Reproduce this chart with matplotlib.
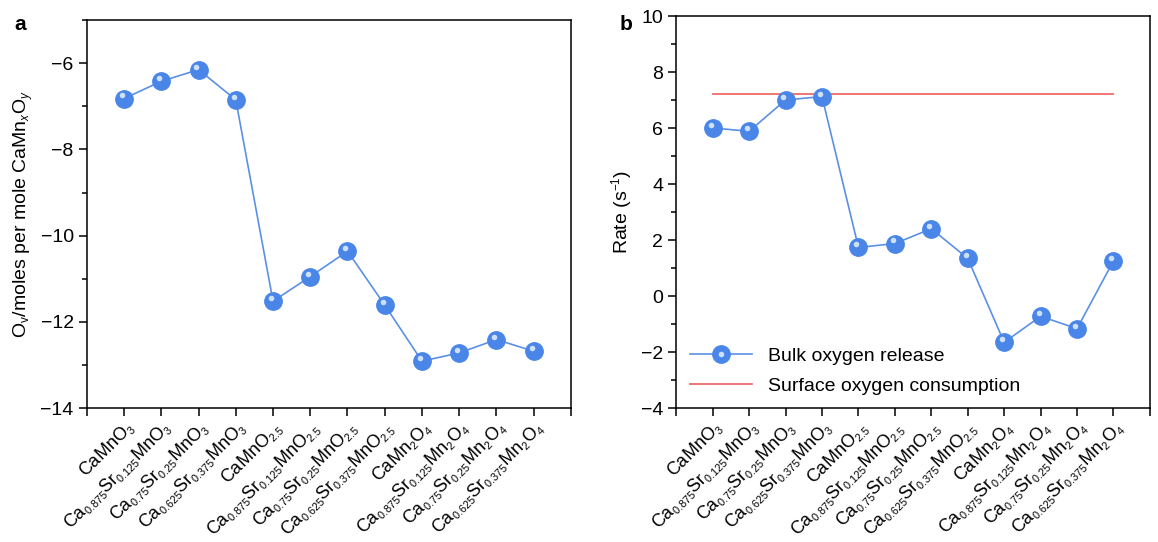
import numpy as np
import matplotlib
matplotlib.use("Agg")
import matplotlib.pyplot as plt
import matplotlib.transforms as mtransforms
from matplotlib.ticker import MultipleLocator
from matplotlib.legend_handler import HandlerTuple

# smaller sub/superscripts, closer to the original figure
try:
    import matplotlib._mathtext as _mt
    _mt.SHRINK_FACTOR = 0.6
except Exception:
    pass

plt.rcParams['font.family'] = ['Liberation Sans', 'DejaVu Sans']
plt.rcParams['mathtext.fontset'] = 'custom'
plt.rcParams['mathtext.rm'] = 'Liberation Sans'
plt.rcParams['mathtext.it'] = 'Liberation Sans:italic'
plt.rcParams['mathtext.bf'] = 'Liberation Sans:bold'

# compositions (x axis categories)
compositions = [
    r"CaMnO$_3$",
    r"Ca$_{0.875}$Sr$_{0.125}$MnO$_3$",
    r"Ca$_{0.75}$Sr$_{0.25}$MnO$_3$",
    r"Ca$_{0.625}$Sr$_{0.375}$MnO$_3$",
    r"CaMnO$_{2.5}$",
    r"Ca$_{0.875}$Sr$_{0.125}$MnO$_{2.5}$",
    r"Ca$_{0.75}$Sr$_{0.25}$MnO$_{2.5}$",
    r"Ca$_{0.625}$Sr$_{0.375}$MnO$_{2.5}$",
    r"CaMn$_2$O$_4$",
    r"Ca$_{0.875}$Sr$_{0.125}$Mn$_2$O$_4$",
    r"Ca$_{0.75}$Sr$_{0.25}$Mn$_2$O$_4$",
    r"Ca$_{0.625}$Sr$_{0.375}$Mn$_2$O$_4$",
]

# panel a: oxygen vacancies per mole
vacancies = [-6.82, -6.42, -6.15, -6.85, -11.52, -10.95, -10.36, -11.61,
             -12.91, -12.72, -12.41, -12.68]

# panel b: rates
bulk_rate = [6.01, 5.89, 7.01, 7.13, 1.74, 1.88, 2.41, 1.35,
             -1.65, -0.72, -1.16, 1.26]
surface_rate = 7.22

ball_color = "#4a86e8"
line_color = "#5b90e6"
hl_color = "#d6e5fc"
fs = 14
xfs = 13

fig = plt.figure(figsize=(11.58, 5.42), dpi=100)
ax_a = fig.add_axes([0.075, 0.247, 0.418, 0.716])
ax_b = fig.add_axes([0.584, 0.247, 0.409, 0.723])

xpos = np.arange(1, len(compositions) + 1)


def balls(ax, y, label=None):
    ln, = ax.plot(xpos, y, '-', color=line_color, lw=1.2, marker='o',
                  ms=12.5, mfc=ball_color, mec=ball_color, zorder=3,
                  label=label)
    # little highlight to fake the shiny sphere
    off = mtransforms.ScaledTranslation(-1.5 / 72, 2.2 / 72, fig.dpi_scale_trans)
    hl, = ax.plot(xpos, y, 'o', ms=4, mfc=hl_color, mec='none', alpha=0.95,
                  transform=ax.transData + off, zorder=4)
    return ln, hl


def style(ax):
    ax.set_xlim(0, 13)
    ax.set_xticks(np.arange(0, 14))
    ax.set_xticklabels([''] + compositions + [''], rotation=45, ha='right',
                       va='top', rotation_mode='anchor', fontsize=xfs)
    ax.tick_params(axis='both', direction='out', length=6, width=1.1,
                   labelsize=fs, top=False, right=False)
    ax.tick_params(axis='x', labelsize=xfs, pad=1)
    ax.tick_params(axis='y', which='minor', direction='out', length=3.5, width=1.1)
    for s in ax.spines.values():
        s.set_linewidth(1.1)


# panel a
balls(ax_a, vacancies)
style(ax_a)
ax_a.set_ylim(-14, -5)
ax_a.yaxis.set_major_locator(MultipleLocator(2))
ax_a.yaxis.set_minor_locator(MultipleLocator(1))
ax_a.set_ylabel(r"O$_\mathrm{v}$/moles per mole CaMn$_x$O$_y$", fontsize=fs)
fig.text(0.012, 0.945, "a", fontsize=fs + 1, fontweight='bold')

# panel b
h_bulk = balls(ax_b, bulk_rate, label="Bulk oxygen release")
h_surf, = ax_b.plot([xpos[0], xpos[-1]], [surface_rate, surface_rate],
                    color="#f06a6a", lw=1.3, zorder=2,
                    label="Surface oxygen consumption")
style(ax_b)
ax_b.set_ylim(-4, 10)
ax_b.yaxis.set_major_locator(MultipleLocator(2))
ax_b.yaxis.set_minor_locator(MultipleLocator(1))
ax_b.set_ylabel(r"Rate (s$^{-1}$)", fontsize=fs)
fig.text(0.535, 0.945, "b", fontsize=fs + 1, fontweight='bold')

ax_b.legend([h_bulk, h_surf], ["Bulk oxygen release", "Surface oxygen consumption"],
            handler_map={tuple: HandlerTuple(ndivide=1)},
            loc='lower left', frameon=False, fontsize=fs, handlelength=3.2,
            borderaxespad=0.3, labelspacing=0.6)

fig.savefig("out.png", dpi=100)
